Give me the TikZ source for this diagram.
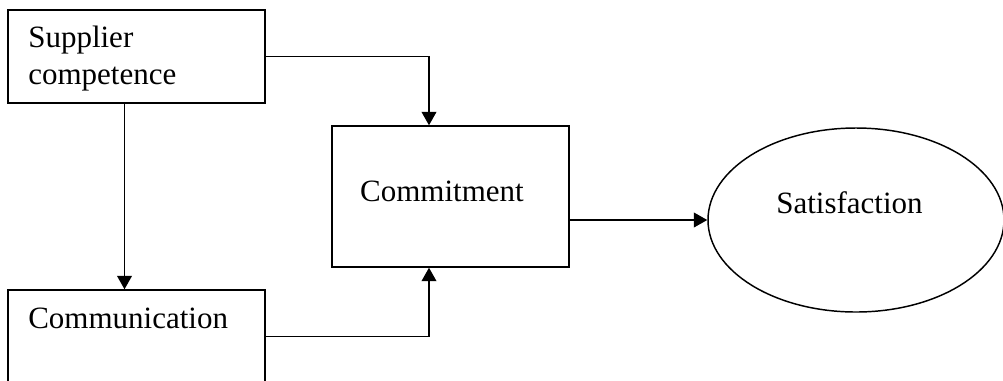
\documentclass[tikz,border=0pt]{standalone}
\usepackage{fontspec}
\setmainfont{Liberation Serif}
\usetikzlibrary{arrows.meta,shapes.geometric}
\begin{document}
\begin{tikzpicture}[x=0.75pt,y=-0.75pt,
  box/.style={draw,line width=1.1pt,rectangle,inner sep=0pt,minimum width=192.75pt,minimum height=69.75pt},
  lbl/.style={inner sep=0pt,font=\fontsize{23.25pt}{27.4pt}\selectfont},
  arr/.style={line width=1.1pt,-{Triangle[width=11pt,length=10pt]}}]
\useasboundingbox (0,0) rectangle (1003,380);
\clip (0,0) rectangle (1003,380);
\node[box] (supplier) at (136.5,56.5) {};
\node[box] (communication) at (136.5,336.5) {};
\node[draw,line width=1.1pt,rectangle,inner sep=0pt,minimum width=177.75pt,minimum height=105.75pt] (commitment) at (450.5,196.5) {};
\node[draw,line width=1.1pt,ellipse,inner sep=0pt,minimum width=222pt,minimum height=138pt] (satisfaction) at (856,220) {};
\node[lbl,anchor=north west,align=left] (supplierText) at (28,26) {Supplier\\competence};
\node[lbl,anchor=base west] (communicationText) at (28,328) {Communication};
\node[lbl,anchor=base] (commitmentText) at (442,201) {Commitment};
\node[lbl,anchor=base] (satisfactionText) at (849.5,213) {Satisfaction};
\draw[arr] (supplier.east) -| ([xshift=-16.125pt]commitment.north);
\draw[arr] (communication.east) -| ([xshift=-16.125pt]commitment.south);
\draw[arr] ([xshift=-9pt]supplier.south) -- ([xshift=-9pt]communication.north);
\draw[arr] (commitment.east |- satisfaction.west) -- (satisfaction.west);
\end{tikzpicture}
\end{document}
